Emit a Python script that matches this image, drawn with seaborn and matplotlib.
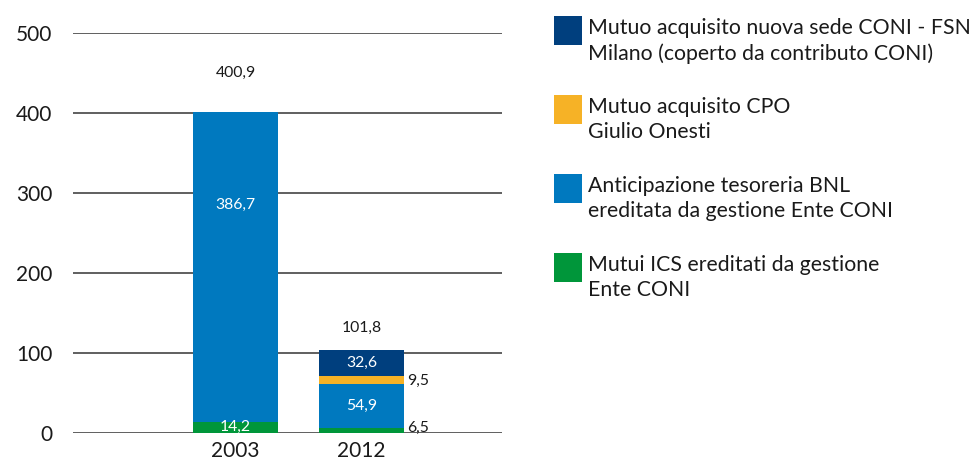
import pandas as pd
import matplotlib.pyplot as plt
import seaborn as sns
from matplotlib.patches import Rectangle

# ── Dati ──────────────────────────────────────────────────────────────────────
anni = ["2003", "2012"]
mutui_ics = [14.2, 6.5]
anticipazione_bnl = [386.7, 54.9]
mutuo_cpo = [0.0, 9.5]
mutuo_fsn = [0.0, 32.6]
totali = ["400,9", "101,8"]

serie = [
    "Mutuo acquisito nuova sede CONI - FSN\nMilano (coperto da contributo CONI)",
    "Mutuo acquisito CPO\nGiulio Onesti",
    "Anticipazione tesoreria BNL\nereditata da gestione Ente CONI",
    "Mutui ICS ereditati da gestione\nEnte CONI",
]
colori = ["#003F7E", "#F6B226", "#0079BF", "#00963A"]

sns.set_theme(style="white")
plt.rcParams["font.family"] = ["Lato", "DejaVu Sans"]

W, H = 979, 463
fig = plt.figure(figsize=(W / 100, H / 100), dpi=100)
ax = fig.add_axes([73 / W, 30 / H, 429 / W, 400 / H])

df = pd.DataFrame({
    "anno": anni,
    "ics": mutui_ics,
    "bnl": anticipazione_bnl,
    "cpo": mutuo_cpo,
    "fsn": mutuo_fsn,
})
# cumulative, disegnate dall'alto verso il basso
df["c4"] = df["ics"] + df["bnl"] + df["cpo"] + df["fsn"]
df["c3"] = df["ics"] + df["bnl"] + df["cpo"]
df["c2"] = df["ics"] + df["bnl"]
df["c1"] = df["ics"]

for col, colore in zip(["c4", "c3", "c2", "c1"], colori):
    sns.barplot(data=df, x="anno", y=col, color=colore, width=0.675,
                saturation=1, linewidth=0, ax=ax, zorder=3)

ax.set_xlim(-1.29, 2.115)
ax.set_ylim(0, 500)
ax.set_yticks(range(0, 501, 100))
ax.yaxis.grid(True, color="#444444", linewidth=1.2, zorder=0)
ax.set_axisbelow(True)
for s in ax.spines.values():
    s.set_visible(False)
ax.tick_params(axis="y", length=0, pad=15, labelsize=15, labelcolor="#1a1a1a")
ax.tick_params(axis="x", length=0, pad=6, labelsize=15, labelcolor="#1a1a1a")
ax.set_xlabel("")
ax.set_ylabel("")

fmt = lambda v: f"{v:.1f}".replace(".", ",")
lab = dict(fontsize=11.3, ha="center", va="center", zorder=5)

# etichette interne (bianche)
for i in range(len(anni)):
    if anticipazione_bnl[i] > 20:
        ax.text(i, mutui_ics[i] + anticipazione_bnl[i] * (0.7 if i == 0 else 0.5),
                fmt(anticipazione_bnl[i]), color="white", **lab)
    if mutuo_fsn[i] > 0:
        ax.text(i, df["c3"][i] + mutuo_fsn[i] / 2, fmt(mutuo_fsn[i]), color="white", **lab)
ax.text(0, mutui_ics[0] / 2 + 1, fmt(mutui_ics[0]), color="white", **lab)

# etichette esterne a destra (2012)
ax.text(1 + 0.36, df["c2"][1] + mutuo_cpo[1] / 2 - 1, fmt(mutuo_cpo[1]),
        color="#1a1a1a", fontsize=11.3, ha="left", va="center")
ax.text(1 + 0.36, 6, fmt(mutui_ics[1]), color="#1a1a1a",
        fontsize=11.3, ha="left", va="center")

# totali
ax.text(0, 450, totali[0], color="#1a1a1a", **lab)
ax.text(1, 131, totali[1], color="#1a1a1a", **lab)

# legenda manuale
for i, (nome, colore) in enumerate(zip(serie, colori)):
    top = 16 + 79 * i
    fig.add_artist(Rectangle((554 / W, 1 - (top + 29) / H), 28 / W, 29 / H,
                             transform=fig.transFigure, color=colore, lw=0))
    fig.text(588 / W, 1 - (top + 2) / H, nome, fontsize=15.3, color="#1a1a1a",
             ha="left", va="top", linespacing=1.32)

fig.savefig("out.png", dpi=100)
